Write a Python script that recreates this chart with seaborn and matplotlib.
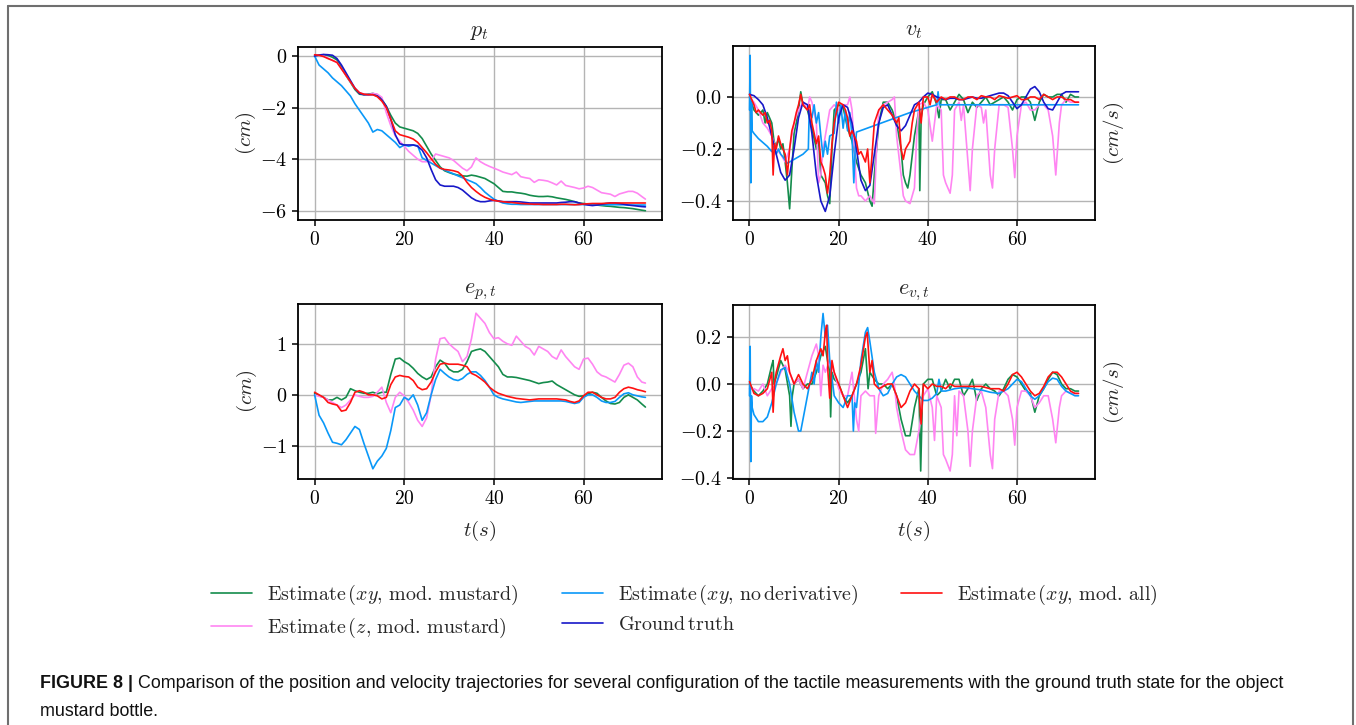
import matplotlib
matplotlib.use("Agg")
import matplotlib.pyplot as plt
from matplotlib.lines import Line2D
import seaborn as sns

# ---------------- data ----------------
t_pos = list(range(74)) + [73.8]

p_gt = [0.0,0.04,0.06,0.05,0.03,-0.1,-0.35,-0.65,-0.95,-1.25,
        -1.45,-1.5,-1.5,-1.5,-1.55,-1.7,-1.95,-2.45,-3.05,-3.4,
        -3.45,-3.45,-3.45,-3.5,-3.65,-3.95,-4.4,-4.8,-5.0,-5.05,
        -5.05,-5.05,-5.1,-5.2,-5.35,-5.5,-5.6,-5.65,-5.65,-5.62,
        -5.6,-5.62,-5.65,-5.65,-5.65,-5.65,-5.66,-5.68,-5.7,-5.7,
        -5.7,-5.7,-5.7,-5.7,-5.7,-5.68,-5.67,-5.65,-5.65,-5.7,
        -5.75,-5.78,-5.8,-5.78,-5.75,-5.72,-5.7,-5.7,-5.72,-5.75,
        -5.78,-5.8,-5.82,-5.84,-5.85]
p_red = [0.05,0.03,-0.02,-0.1,-0.17,-0.25,-0.5,-0.75,-1.0,-1.25,
         -1.42,-1.48,-1.5,-1.5,-1.58,-1.75,-2.0,-2.45,-2.9,-3.05,
         -3.1,-3.15,-3.22,-3.35,-3.55,-3.75,-3.98,-4.2,-4.35,-4.4,
         -4.42,-4.45,-4.5,-4.65,-4.9,-5.1,-5.25,-5.38,-5.48,-5.55,
         -5.6,-5.63,-5.65,-5.67,-5.68,-5.7,-5.72,-5.73,-5.74,-5.75,
         -5.75,-5.76,-5.76,-5.76,-5.76,-5.75,-5.75,-5.76,-5.77,-5.76,
         -5.74,-5.73,-5.72,-5.72,-5.72,-5.71,-5.7,-5.7,-5.7,-5.7,
         -5.7,-5.7,-5.7,-5.7,-5.7]
p_green = [0.0,0.03,0.05,0.03,-0.05,-0.15,-0.45,-0.75,-1.02,-1.3,
           -1.48,-1.5,-1.48,-1.45,-1.5,-1.68,-1.95,-2.3,-2.6,-2.75,
           -2.8,-2.85,-2.9,-3.0,-3.2,-3.5,-3.8,-4.05,-4.3,-4.45,
           -4.52,-4.58,-4.62,-4.65,-4.66,-4.62,-4.65,-4.7,-4.75,-4.85,
           -4.95,-5.1,-5.25,-5.27,-5.27,-5.3,-5.32,-5.35,-5.4,-5.43,
           -5.45,-5.45,-5.44,-5.46,-5.5,-5.53,-5.56,-5.6,-5.65,-5.7,
           -5.72,-5.74,-5.76,-5.78,-5.8,-5.82,-5.83,-5.85,-5.87,-5.88,
           -5.9,-5.92,-5.95,-5.98,-6.0]
p_nod = [0.0,-0.35,-0.5,-0.65,-0.85,-1.0,-1.15,-1.35,-1.55,-1.85,
         -2.1,-2.35,-2.6,-2.95,-2.85,-2.9,-3.05,-3.2,-3.35,-3.55,
         -3.45,-3.5,-3.45,-3.48,-3.95,-4.05,-4.15,-4.25,-4.35,-4.42,
         -4.5,-4.57,-4.65,-4.72,-4.8,-4.87,-4.95,-5.1,-5.28,-5.42,
         -5.55,-5.63,-5.7,-5.73,-5.75,-5.75,-5.76,-5.76,-5.76,-5.76,
         -5.76,-5.76,-5.76,-5.76,-5.76,-5.76,-5.76,-5.76,-5.76,-5.76,
         -5.76,-5.76,-5.76,-5.77,-5.77,-5.77,-5.77,-5.77,-5.77,-5.77,
         -5.78,-5.78,-5.78,-5.78,-5.78]
p_pink = [0.0,0.03,0.0,-0.08,-0.17,-0.25,-0.5,-0.75,-1.0,-1.25,
          -1.42,-1.48,-1.5,-1.45,-1.48,-1.6,-2.2,-2.7,-3.1,-3.3,
          -3.5,-3.7,-3.85,-4.0,-4.1,-4.1,-4.05,-3.8,-3.85,-3.9,
          -3.95,-4.05,-4.2,-4.35,-4.45,-4.3,-3.95,-4.1,-4.2,-4.28,
          -4.35,-4.42,-4.5,-4.55,-4.6,-4.5,-4.68,-4.72,-4.75,-4.9,
          -4.8,-4.82,-4.85,-4.92,-5.0,-4.85,-5.02,-5.06,-5.1,-5.15,
          -5.12,-5.05,-5.1,-5.2,-5.3,-5.33,-5.36,-5.45,-5.35,-5.3,
          -5.25,-5.25,-5.32,-5.45,-5.55]

ep_pink = [0.0,-0.03,-0.05,-0.1,-0.15,-0.2,-0.25,-0.2,-0.1,0.0,
           -0.03,-0.05,-0.05,-0.03,0.05,0.15,-0.15,-0.35,-0.05,0.05,
           -0.02,-0.15,-0.3,-0.5,-0.62,-0.45,0.0,0.7,1.1,1.12,
           1.0,0.92,0.85,0.65,0.75,1.1,1.6,1.5,1.4,1.22,
           1.1,1.12,1.05,1.0,0.97,1.15,1.05,0.95,0.9,0.78,
           0.95,0.9,0.85,0.75,0.7,0.88,0.75,0.65,0.55,0.5,
           0.7,0.72,0.6,0.45,0.38,0.35,0.3,0.25,0.4,0.58,
           0.62,0.55,0.35,0.25,0.23]
ep_green = [0.03,-0.02,-0.05,-0.1,-0.1,-0.05,-0.1,-0.05,0.12,0.08,
            0.05,0.03,0.03,0.05,0.02,0.05,0.05,0.4,0.7,0.72,
            0.65,0.6,0.52,0.42,0.35,0.3,0.35,0.55,0.68,0.62,
            0.5,0.45,0.45,0.5,0.65,0.85,0.88,0.9,0.85,0.75,
            0.65,0.55,0.4,0.35,0.35,0.34,0.32,0.3,0.28,0.25,
            0.22,0.24,0.25,0.27,0.2,0.15,0.1,0.05,0.0,-0.03,
            -0.02,0.02,0.05,0.03,-0.05,-0.12,-0.17,-0.18,-0.15,-0.05,
            0.0,-0.05,-0.1,-0.18,-0.24]
ep_red = [0.05,0.0,-0.05,-0.15,-0.18,-0.2,-0.32,-0.3,-0.15,0.05,
          0.08,0.05,0.0,0.0,-0.02,-0.08,-0.05,0.2,0.35,0.38,
          0.36,0.35,0.28,0.15,0.1,0.12,0.25,0.45,0.6,0.62,
          0.6,0.6,0.6,0.58,0.55,0.42,0.38,0.32,0.25,0.15,
          0.08,0.03,0.0,-0.03,-0.05,-0.07,-0.08,-0.09,-0.1,-0.09,
          -0.08,-0.08,-0.08,-0.08,-0.08,-0.09,-0.1,-0.13,-0.15,-0.12,
          -0.02,0.05,0.05,0.0,-0.05,-0.08,-0.08,-0.05,0.05,0.12,
          0.15,0.13,0.1,0.08,0.06]
ep_nod = [0.0,-0.4,-0.55,-0.75,-0.93,-0.95,-0.98,-0.88,-0.75,-0.62,
          -0.68,-0.95,-1.2,-1.45,-1.3,-1.2,-1.05,-0.7,-0.25,-0.2,
          -0.05,-0.1,0.0,-0.2,-0.5,-0.35,0.0,0.3,0.5,0.42,
          0.35,0.3,0.28,0.32,0.4,0.45,0.45,0.38,0.28,0.15,
          0.0,-0.05,-0.08,-0.1,-0.12,-0.14,-0.15,-0.14,-0.13,-0.12,
          -0.12,-0.12,-0.12,-0.12,-0.12,-0.12,-0.13,-0.15,-0.17,-0.15,
          -0.05,0.0,0.0,-0.05,-0.12,-0.15,-0.15,-0.13,-0.05,0.02,
          0.04,0.0,-0.02,-0.04,-0.05]

# velocity: (t, v) samples
v_gt = [0.01,0.005,-0.01,-0.03,-0.08,-0.15,-0.22,-0.29,-0.32,-0.3,
        -0.2,-0.08,-0.02,-0.03,-0.14,-0.3,-0.4,-0.44,-0.38,-0.22,
        -0.08,-0.03,-0.04,-0.1,-0.2,-0.32,-0.36,-0.34,-0.22,-0.1,
        -0.04,-0.03,-0.07,-0.11,-0.13,-0.11,-0.07,-0.03,-0.02,0.0,
        0.015,0.01,0.0,-0.005,-0.01,-0.005,-0.005,-0.01,-0.01,-0.005,
        0.0,-0.005,-0.005,0.0,0.005,0.01,0.015,0.015,0.005,-0.02,
        -0.045,-0.03,0.0,0.03,0.04,0.02,-0.02,-0.045,-0.05,-0.02,
        0.01,0.02,0.02,0.02,0.02]
v_green = [(0,0.0),(1,-0.05),(2,-0.07),(3,-0.05),(3.5,-0.1),(4,-0.06),(5,-0.1),(5.5,-0.17),
           (6,-0.19),(6.5,-0.16),(7,-0.2),(7.5,-0.18),(8,-0.25),(8.5,-0.33),(9,-0.43),(9.5,-0.28),
           (10,-0.14),(10.5,-0.1),(11,-0.05),(11.5,0.02),(12,-0.03),(13,-0.05),(14,-0.12),(15,-0.2),
           (15.5,-0.17),(16,-0.3),(17,-0.33),(17.5,-0.38),(18,-0.41),(18.5,-0.2),(19,-0.05),(20,-0.03),
           (21,-0.04),(22,-0.12),(23,-0.17),(24,-0.25),(25,-0.3),(26,-0.33),(27,-0.4),(27.5,-0.42),
           (28,-0.3),(29,-0.1),(30,-0.02),(31,-0.02),(32,-0.05),(33,-0.1),(34,-0.2),(34.5,-0.3),
           (35,-0.33),(35.5,-0.35),(36,-0.3),(37,-0.15),(38,-0.05),(38.2,-0.36),(38.5,-0.08),(39,-0.03),
           (40,0.0),(41,0.02),(42,-0.03),(42.5,-0.08),(43,-0.01),(44,-0.01),(45,-0.05),(46,-0.02),
           (47,0.01),(48,-0.01),(49,-0.06),(50,-0.02),(51,-0.04),(52,-0.02),(53,0.0),(54,-0.03),
           (55,-0.02),(56,-0.01),(57,0.0),(58,-0.02),(59,-0.05),(60,-0.01),(61,0.0),(62,0.0),
           (63,-0.02),(64,-0.09),(65,-0.02),(66,0.01),(67,0.0),(68,0.0),(69,0.01),(70,0.01),
           (71,-0.02),(72,0.01),(73,0.0),(73.8,0.0)]
v_red = [(0,0.01),(1,-0.03),(1.5,-0.06),(2,-0.05),(3,-0.07),(3.5,-0.06),(4,-0.1),(4.5,-0.09),
         (5,-0.13),(5.3,-0.3),(5.6,-0.18),(6,-0.2),(6.5,-0.15),(7,-0.18),(7.5,-0.2),(8,-0.22),
         (8.5,-0.3),(9,-0.2),(9.5,-0.13),(10,-0.1),(10.5,-0.06),(11,-0.03),(11.5,0.01),(12,-0.03),
         (13,-0.05),(13.5,-0.03),(14,-0.1),(15,-0.18),(15.5,-0.15),(16,-0.25),(16.5,-0.27),(17,-0.3),
         (17.5,-0.37),(18,-0.3),(18.5,-0.18),(19,-0.1),(20,-0.02),(21,-0.03),(21.5,-0.05),(22,-0.08),
         (22.5,-0.15),(23,-0.13),(24,-0.17),(24.5,-0.22),(25,-0.21),(26,-0.25),(26.5,-0.2),(27,-0.33),
         (27.5,-0.22),(28,-0.1),(29,-0.05),(30,-0.03),(31,-0.05),(32,-0.07),(33,-0.1),(33.5,-0.08),
         (34,-0.2),(34.5,-0.24),(35,-0.2),(36,-0.17),(36.5,-0.1),(37,-0.05),(38,-0.02),(38.5,-0.1),
         (39,0.0),(40,0.0),(40.5,-0.03),(41,0.01),(42,-0.02),(43,0.0),(44,-0.01),(45,0.0),
         (46,0.0),(47,-0.01),(48,-0.01),(49,0.0),(50,0.0),(51,-0.01),(52,0.005),(53,0.0),
         (54,0.0),(55,-0.01),(56,0.005),(57,0.0),(58,-0.005),(59,0.0),(60,0.005),(61,-0.01),
         (62,-0.01),(63,0.0),(64,0.0),(65,-0.01),(66,0.01),(67,0.0),(68,-0.01),(69,0.0),
         (70,0.0),(71,-0.01),(72,-0.01),(73,-0.02),(73.8,-0.02)]
v_pink = [(0,0.0),(1,-0.02),(2,-0.05),(3,-0.1),(4,-0.12),(5,-0.15),(6,-0.2),(7,-0.22),
          (8,-0.25),(9,-0.2),(10,-0.1),(11,-0.05),(12,-0.02),(13,-0.05),(13.5,0.0),(14,-0.02),
          (15,-0.1),(15.5,-0.33),(16,-0.3),(16.5,-0.2),(17,-0.15),(18,-0.05),(19,-0.03),(20,-0.05),
          (21,-0.03),(22,-0.03),(22.5,0.0),(23,-0.05),(23.5,-0.2),(24,-0.35),(24.5,-0.38),(25,-0.38),
          (26,-0.4),(27,-0.38),(28,-0.41),(28.5,-0.2),(29,-0.05),(30,-0.03),(31,-0.02),(32,-0.01),
          (32.5,0.0),(33,-0.15),(34,-0.3),(34.5,-0.38),(35,-0.4),(36,-0.41),(37,-0.35),(37.5,-0.15),
          (38,-0.03),(39,-0.02),(40,-0.05),(41,-0.17),(41.5,-0.1),(42,-0.03),(43,-0.05),(43.5,-0.3),
          (44,-0.33),(45,-0.37),(45.5,-0.3),(46,-0.05),(47,-0.02),(47.5,-0.09),(48,-0.03),(49,-0.25),
          (49.5,-0.36),(50,-0.2),(51,-0.03),(52,-0.04),(52.5,-0.1),(53,-0.05),(54,-0.3),(54.5,-0.35),
          (55,-0.2),(56,-0.03),(57,-0.03),(58,-0.04),(59,-0.2),(59.5,-0.31),(60,-0.15),(61,-0.03),
          (62,-0.02),(63,-0.05),(64,-0.05),(65,-0.03),(66,-0.03),(67,-0.05),(68,-0.15),(68.7,-0.3),
          (69.5,-0.1),(70,-0.03),(71,-0.01),(72,-0.02),(73,-0.02),(73.8,-0.02)]
v_nod = [(0,-0.05),(0.15,0.16),(0.3,-0.33),(0.45,-0.02),(0.6,-0.13),(1,-0.14),(2,-0.16),(3,-0.175),
         (4,-0.19),(4.5,-0.2),(5,-0.21),(5.5,-0.19),(6,-0.22),(6.5,-0.2),(7,-0.22),(7.5,-0.23),
         (8.5,-0.255),(10,-0.24),(12,-0.22),(13.2,-0.2),(13.4,-0.05),(14,-0.08),(14.5,-0.03),(15,-0.1),
         (15.5,-0.06),(16,-0.15),(16.5,-0.23),(17,-0.17),(17.5,-0.22),(18,-0.15),(19,-0.14),(19.5,-0.02),
         (20,-0.1),(20.5,-0.03),(21,-0.12),(21.5,-0.05),(22,-0.13),(22.5,-0.06),(23,-0.15),(23.4,-0.33),
         (23.7,-0.2),(24,-0.135),(28,-0.11),(32,-0.085),(36,-0.06),(40,-0.04),(42,-0.03),(42.3,0.02),
         (42.6,-0.03),(50,-0.03),(60,-0.03),(70,-0.03),(73.8,-0.03)]

ev_nod = [(0,-0.05),(0.15,0.16),(0.3,-0.33),(0.45,-0.05),(0.6,-0.1),(1,-0.13),(2,-0.16),(3,-0.16),
          (4,-0.14),(5,-0.08),(6,0.0),(7,0.06),(8,0.07),(9,0.0),(10,-0.12),(11,-0.2),
          (11.5,-0.2),(12,-0.15),(13,-0.05),(13.5,0.0),(14,0.05),(14.5,0.0),(15,0.1),(15.5,0.05),
          (16,0.2),(16.5,0.3),(17,0.2),(17.5,0.25),(18,0.1),(19,-0.05),(20,-0.08),(21,-0.1),
          (22,-0.05),(23,-0.05),(23.3,-0.2),(23.6,-0.08),(24,-0.1),(25,0.1),(26,0.22),(26.5,0.24),
          (27,0.18),(28,0.05),(29,-0.02),(30,-0.05),(31,-0.04),(32,0.0),(33,0.03),(34,0.04),
          (35,0.03),(36,0.0),(37,-0.03),(38,-0.05),(39,-0.07),(40,-0.07),(41,-0.06),(42,-0.04),
          (42.5,0.02),(43,-0.03),(44,-0.03),(46,-0.02),(48,-0.015),(50,-0.02),(52,-0.025),(54,-0.035),
          (56,-0.04),(58,-0.02),(59,0.0),(60,0.02),(61,0.01),(62,-0.02),(63,-0.05),(64,-0.065),
          (65,-0.05),(66,-0.02),(67,0.01),(68,0.025),(69,0.02),(70,-0.01),(71,-0.03),(72,-0.04),
          (73,-0.05),(73.8,-0.05)]
ev_green = [(0,0.0),(1,-0.03),(2,-0.05),(3,-0.03),(4,0.0),(5,0.08),(5.3,0.1),(5.5,0.0),
            (6,0.03),(7,0.1),(8,0.06),(9,-0.05),(9.3,-0.18),(9.6,-0.05),(10,0.0),(11,0.02),
            (12,-0.02),(13,0.0),(14,0.0),(15,0.05),(16,0.12),(17,0.16),(17.5,0.1),(18,0.05),
            (18.2,-0.14),(18.5,0.05),(19,0.02),(20,0.0),(21,-0.05),(22,-0.08),(23,-0.05),(24,0.0),
            (25,0.05),(26,0.15),(26.6,-0.02),(27,0.05),(28,0.02),(29,0.0),(30,0.0),(31,-0.02),
            (32,0.0),(33,-0.05),(34,-0.15),(35,-0.22),(36,-0.22),(37,-0.1),(38,-0.02),(38.4,-0.37),
            (38.8,-0.05),(39,0.0),(40,0.02),(41,0.02),(42,-0.05),(43,-0.03),(44,0.02),(45,-0.02),
            (46,0.02),(47,0.02),(48,-0.05),(49,-0.02),(50,0.02),(51,-0.07),(52,-0.02),(53,0.0),
            (54,-0.02),(55,-0.03),(56,-0.05),(57,-0.02),(58,0.02),(59,0.04),(60,0.03),(61,0.0),
            (62,-0.03),(63,-0.04),(64,-0.12),(65,-0.05),(66,-0.02),(67,0.02),(68,0.05),(69,0.04),
            (70,0.0),(71,-0.02),(72,-0.02),(73,-0.03),(73.8,-0.03)]
ev_red = [(0,0.01),(1,-0.04),(2,-0.05),(3,-0.04),(4,-0.02),(5,0.05),(5.3,-0.12),(5.6,0.0),
          (6,0.05),(7,0.12),(7.5,0.15),(8,0.1),(8.5,0.12),(9,0.05),(10,0.0),(11,0.04),
          (12,0.0),(13,-0.02),(14,0.02),(15,0.1),(16,0.15),(16.5,0.12),(17,0.22),(17.3,0.25),
          (17.6,0.05),(18,-0.06),(18.5,0.1),(19,0.05),(20,0.0),(21,-0.05),(22,-0.1),(23,-0.05),
          (24,0.0),(25,0.08),(26,0.2),(26.4,0.22),(27,0.05),(27.5,0.1),(28,0.0),(29,-0.02),
          (30,-0.01),(31,0.0),(32,0.0),(33,-0.05),(34,-0.1),(35,-0.08),(36,-0.03),(37,0.0),
          (38,-0.02),(38.5,-0.17),(39,0.0),(40,-0.02),(41,0.0),(42,-0.01),(43,-0.01),(44,-0.02),
          (45,0.0),(46,-0.01),(48,-0.01),(50,-0.01),(52,-0.01),(54,-0.02),(56,-0.02),(57,-0.03),
          (58,0.0),(59,0.04),(60,0.05),(61,0.03),(62,0.0),(63,-0.03),(64,-0.05),(65,-0.04),
          (66,-0.01),(67,0.03),(68,0.05),(69,0.05),(70,0.03),(71,0.0),(72,-0.03),(73,-0.04),
          (73.8,-0.04)]
ev_pink = [(0,-0.02),(1,-0.02),(2,-0.03),(3,0.0),(4,-0.05),(5,-0.02),(6,0.0),(7,0.05),
           (8,0.08),(9,0.05),(10,0.0),(11,0.02),(12,-0.02),(13,0.05),(14,0.12),(15,0.17),
           (15.5,0.12),(16,-0.05),(16.5,0.08),(17,0.05),(18,0.1),(19,0.05),(20,-0.02),(21,-0.05),
           (22,-0.05),(23,0.05),(24,-0.15),(24.5,-0.2),(25,-0.05),(26,-0.03),(27,-0.05),(28,-0.05),
           (28.3,-0.21),(29,-0.05),(30,0.0),(31,0.02),(32,0.05),(32.5,0.0),(33,-0.1),(34,-0.2),
           (35,-0.28),(36,-0.3),(37,-0.3),(38,-0.2),(39,-0.05),(40,-0.02),(41,-0.1),(41.5,-0.24),
           (42,-0.05),(43,-0.1),(43.5,-0.3),(44,-0.32),(45,-0.37),(45.5,-0.3),(46,-0.05),(46.5,-0.22),
           (47,-0.03),(48,-0.05),(49,-0.2),(49.5,-0.35),(50,-0.2),(51,-0.05),(52,-0.03),(53,-0.1),
           (54,-0.3),(54.5,-0.36),(55,-0.15),(56,-0.03),(57,-0.03),(58,-0.05),(59,-0.15),(59.5,-0.26),
           (60,-0.1),(61,-0.03),(62,-0.03),(63,-0.05),(64,-0.1),(65,-0.08),(66,-0.05),(67,-0.05),
           (68,-0.15),(68.7,-0.25),(69.5,-0.1),(70,-0.05),(71,-0.03),(72,-0.04),(73,-0.04),(73.8,-0.04)]

labels = [r"$\mathrm{Estimate}\,(xy,\,\mathrm{mod.\,mustard})$",
          r"$\mathrm{Estimate}\,(z,\,\mathrm{mod.\,mustard})$",
          r"$\mathrm{Estimate}\,(xy,\,\mathrm{no\,derivative})$",
          r"$\mathrm{Ground\,truth}$",
          r"$\mathrm{Estimate}\,(xy,\,\mathrm{mod.\,all})$"]
colors = ["#148c4c", "#ff85f2", "#0a98f8", "#1818c8", "#ff1111"]

# ---------------- style ----------------
sns.set_theme(style="ticks")
plt.rcParams.update({
    "font.family": "serif",
    "font.serif": ["cmr10", "DejaVu Serif"],
    "mathtext.fontset": "cm",
    "axes.formatter.use_mathtext": True,
    "axes.edgecolor": "black",
    "axes.linewidth": 1.3,
    "xtick.color": "black", "ytick.color": "black",
    "xtick.major.width": 1.1, "ytick.major.width": 1.1,
    "xtick.major.size": 4.5, "ytick.major.size": 4.5,
    "xtick.labelsize": 14, "ytick.labelsize": 14.5,
    "axes.unicode_minus": True,
})

W, H = 1356, 725
fig = plt.figure(figsize=(W / 100, H / 100), dpi=100)
fig.patch.set_facecolor("white")

ax_p = fig.add_axes([298 / W, 1 - 220 / H, 364 / W, 173 / H])
ax_v = fig.add_axes([733 / W, 1 - 220 / H, 362 / W, 174 / H])
ax_ep = fig.add_axes([298 / W, 1 - 479 / H, 364 / W, 175 / H])
ax_ev = fig.add_axes([733 / W, 1 - 479 / H, 362 / W, 174 / H])

LW = 1.2


def draw(ax, x, y, c, lab=None):
    sns.lineplot(x=x, y=y, ax=ax, color=c, lw=LW, estimator=None, sort=False,
                 label=lab, legend=False)


def unz(pairs):
    return [a for a, _ in pairs], [b for _, b in pairs]


# position
for ys, c, lab in zip([p_green, p_pink, p_nod, p_gt, p_red], colors, labels):
    draw(ax_p, t_pos, ys, c, lab)
# velocity
for pr, c in zip([v_green, v_pink, v_nod], colors[:3]):
    x, y = unz(pr)
    draw(ax_v, x, y, c)
draw(ax_v, t_pos, v_gt, colors[3])
x, y = unz(v_red)
draw(ax_v, x, y, colors[4])
# position error
for ys, c in zip([ep_green, ep_pink, ep_nod, ep_red], [colors[0], colors[1], colors[2], colors[4]]):
    draw(ax_ep, t_pos, ys, c)
# velocity error
for pr, c in zip([ev_green, ev_pink, ev_nod, ev_red], [colors[0], colors[1], colors[2], colors[4]]):
    x, y = unz(pr)
    draw(ax_ev, x, y, c)

titles = [r"$p_t$", r"$v_t$", r"$e_{p,t}$", r"$e_{v,t}$"]
ylims = [(-6.36, 0.35), (-0.473, 0.196), (-1.65, 1.78), (-0.404, 0.336)]
yticks = [[0, -2, -4, -6], [0.0, -0.2, -0.4], [-1, 0, 1], [0.2, 0.0, -0.2, -0.4]]
for ax, ti, yl, yt in zip([ax_p, ax_v, ax_ep, ax_ev], titles, ylims, yticks):
    ax.set_xlim(-3.7, 77.5)
    ax.set_ylim(*yl)
    ax.set_xticks([0, 20, 40, 60])
    ax.set_yticks(yt)
    ax.grid(True, color="#b4b4b4", lw=1.0)
    ax.set_axisbelow(True)
    ax.set_title(ti, fontsize=16, pad=8)
    ax.set_xlabel("")
    ax.set_ylabel("")
    for s in ax.spines.values():
        s.set_visible(True)
        s.set_color("black")
        s.set_linewidth(1.3)
    ax.tick_params(direction="out", top=False, right=False)

for ax in (ax_p, ax_ep):
    ax.set_ylabel(r"$(cm)$", fontsize=15, labelpad=1)
for ax in (ax_v, ax_ev):
    ax.yaxis.set_label_position("right")
    ax.set_ylabel(r"$(cm/s)$", fontsize=15, labelpad=5, rotation=90)
for ax in (ax_ep, ax_ev):
    ax.set_xlabel(r"$t(s)$", fontsize=15, labelpad=8)

handles, labs = ax_p.get_legend_handles_labels()
fig.legend(handles, labs, loc="upper left", bbox_to_anchor=(211 / W, 1 - 583 / H),
           ncol=3, frameon=False, fontsize=14.4, handlelength=2.05, handletextpad=0.75,
           columnspacing=2.15, labelspacing=0.42, borderpad=0, borderaxespad=0)

# outer frame
frame_c = "#6f6f6f"
fig.add_artist(Line2D([8 / W, 8 / W], [0, 1 - 6 / H], transform=fig.transFigure, color=frame_c, lw=1.5))
fig.add_artist(Line2D([8 / W, 1353 / W], [1 - 6 / H, 1 - 6 / H], transform=fig.transFigure, color=frame_c, lw=1.5))
fig.add_artist(Line2D([1353 / W, 1353 / W], [0, 1 - 6 / H], transform=fig.transFigure, color=frame_c, lw=1.5))

# caption
cap_fam = ["Liberation Sans Narrow", "Liberation Sans", "DejaVu Sans"]
cap_rest = (" Comparison of the position and velocity trajectories for several configuration "
            "of the tactile measurements with the ground truth state for the object")
fs = 13.0
renderer = fig.canvas.get_renderer()
x0 = 40 / W
y1 = 1 - 684 / H
y2 = 1 - 711 / H
t_b = fig.text(x0, y1, "FIGURE 8 |", family=cap_fam, weight="bold", fontsize=fs, va="center", color="#111111")
bb = t_b.get_window_extent(renderer)
t_r = fig.text(bb.x1 / W, y1, cap_rest, family=cap_fam, fontsize=fs, va="center", color="#111111")
total = t_r.get_window_extent(renderer).x1 - bb.x0
scale = (1277 - 40) / total
fs2 = fs * scale
t_b.set_fontsize(fs2)
bb = t_b.get_window_extent(renderer)
t_r.set_fontsize(fs2)
t_r.set_x(bb.x1 / W)
fig.text(x0, y2, "mustard bottle.", family=cap_fam, fontsize=fs2, va="center", color="#111111")

fig.savefig("out.png", dpi=100, facecolor="white")
